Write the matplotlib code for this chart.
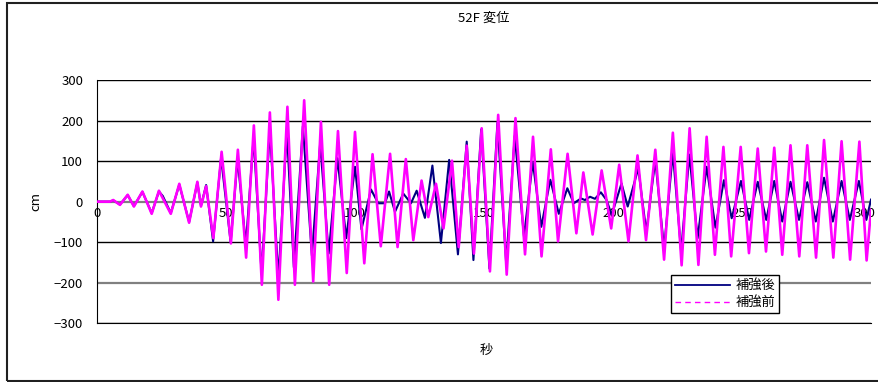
import matplotlib.pyplot as plt
from matplotlib.lines import Line2D
from matplotlib.patches import Rectangle

plt.rcParams['font.family'] = ['Noto Sans CJK JP', 'DejaVu Sans']

# 補強前 (before retrofit) - turning points
t_before = [0, 5, 6.3, 8.9, 11.9, 14.3, 17.6, 21.2, 24.0, 28.6, 31.9, 35.7, 38.9, 40.3, 42.3,
            45.1, 48.3, 51.9, 54.6, 57.8, 60.8, 63.9, 67.0, 70.3, 73.8, 76.7, 80.3, 83.8,
            86.8, 90.0, 93.4, 96.8, 100.0, 103.6, 106.8, 110.0, 113.6, 116.5, 119.7, 122.6,
            125.8, 128.4, 131.4, 134.3, 137.6, 140.2, 143.3, 146.1, 149.1, 152.3, 155.5,
            158.8, 162.2, 165.9, 169.0, 172.3, 175.9, 178.7, 182.4, 185.8, 188.5, 192.1,
            195.6, 199.3, 202.4, 206.0, 209.5, 212.8, 216.4, 219.8, 223.2, 226.6, 229.7,
            233.1, 236.3, 239.5, 242.8, 245.8, 249.5, 252.7, 256.1, 259.3, 262.5, 265.6,
            268.8, 272.2, 275.3, 278.7, 281.8, 285.4, 288.6, 291.9, 295.5, 298.3, 300]
v_before = [0, 0, 4, -8, 17, -12, 25, -30, 27, -30, 44, -52, 49, -12, 38,
            -90, 123, -103, 128, -138, 188, -205, 220, -242, 234, -205, 250, -197,
            197, -205, 174, -176, 172, -152, 117, -110, 118, -112, 105, -95,
            52, -38, 44, -66, 101, -112, 138, -128, 181, -172, 214,
            -180, 206, -130, 160, -135, 129, -98, 118, -78, 72, -81,
            77, -66, 91, -98, 114, -95, 128, -143, 170, -157, 181,
            -156, 160, -131, 135, -135, 135, -127, 131, -123, 133, -131,
            139, -135, 139, -138, 152, -138, 149, -143, 148, -145, -20]

# 補強後 (after retrofit)
t_after = [0, 5, 6.3, 8.9, 11.9, 14.3, 17.6, 21.2, 24.0, 25.5, 28.6, 31.9, 35.7, 38.9, 40.3,
           42.3, 45.0, 48.1, 51.8, 54.5, 57.7, 60.7, 63.8, 67.0, 70.3, 73.6, 76.3, 79.8,
           83.3, 86.5, 89.8, 93.2, 96.6, 100.0, 102.5, 106.2, 109.0, 111.6, 113.2, 115.5,
           118.7, 121.7, 123.9, 127.1, 130.0, 133.3, 136.5, 139.9, 143.3, 145.9, 148.9,
           152.1, 155.2, 158.6, 161.9, 165.5, 168.9, 172.2, 175.7, 179.0, 182.3, 184.8,
           187.6, 189.1, 191.1, 193.0, 195.3, 197.5, 199.5, 203.3, 205.7, 209.8, 212.9,
           216.4, 219.8, 223.2, 226.4, 229.6, 232.8, 236.3, 239.7, 243.0, 246.0, 249.6,
           252.8, 256.1, 259.4, 262.5, 265.6, 268.8, 272.1, 275.3, 278.6, 281.8, 285.2,
           288.6, 291.8, 295.3, 298.2, 300]
v_after = [0, 0, 3, -7, 16, -11, 24, -28, 25, 14, -28, 42, -50, 47, -10,
           41, -98, 108, -100, 105, -106, 158, -178, 178, -189, 175, -162, 186,
           -133, 144, -128, 107, -90, 86, -68, 30, -4, -4, 25, -25,
           20, -4, 27, -40, 89, -102, 103, -130, 148, -144, 178,
           -165, 195, -152, 162, -86, 98, -62, 54, -30, 33, -4,
           8, 4, 12, 7, 23, 4, -33, 45, -12, 82, -74,
           102, -115, 121, -123, 116, -90, 86, -64, 53, -41, 51,
           -45, 49, -45, 51, -49, 49, -45, 48, -49, 59, -49,
           51, -45, 51, -45, 5]

x_ticks = [0, 50, 100, 150, 200, 250, 300]
y_ticks = [-300, -200, -100, 0, 100, 200, 300]
labels = ['補強後', '補強前']

navy = '#000080'
magenta = '#FF00FF'

fig = plt.figure(figsize=(8.79, 3.82), dpi=100)
fig.patches.append(Rectangle((7.5 / 879, 1.5 / 382), 1.0, 1 - 4.5 / 382,
                             transform=fig.transFigure, fill=False,
                             edgecolor='#202020', linewidth=1.5))
ax = fig.add_axes([97 / 879, 1 - 323.3 / 382, 774 / 879, 243.3 / 382])

for y in y_ticks:
    if y in (0, -200):
        ax.axhline(y, color='#808080', lw=1.6, zorder=1)
    else:
        ax.axhline(y, color='black', lw=1.0, zorder=1)

for x in x_ticks:
    # the last label sits at the image edge; nudge it so it stays inside
    xpos = x - 2.5 if x == x_ticks[-1] else x
    ax.text(xpos, -12, str(x), ha='center', va='top', fontsize=9.5, zorder=2)

ax.plot(t_after, v_after, color=navy, lw=1.5, zorder=3, solid_joinstyle='round')
ax.plot(t_before, v_before, color=magenta, lw=1.9, zorder=4, solid_joinstyle='round')

ax.set_xlim(0, 300)
ax.set_ylim(-300, 300)
ax.set_xticks([])
ax.set_yticks(y_ticks)
ax.set_yticklabels([str(y).replace('-', '−') for y in y_ticks], fontsize=9.5)
ax.tick_params(axis='y', length=0, pad=10)
for side in ('top', 'right'):
    ax.spines[side].set_visible(False)
ax.spines['left'].set_color('black')
ax.spines['bottom'].set_color('black')

fig.text(484 / 879, 1 - 18 / 382, '52F 変位', ha='center', va='center', fontsize=9.5)
fig.text(36 / 879, 1 - 202 / 382, 'cm', ha='center', va='center', rotation=90, fontsize=9.5)
fig.text(486 / 879, 1 - 350 / 382, '秒', ha='center', va='center', fontsize=9.5)

handles = [Line2D([], [], color=navy, lw=1.3),
           Line2D([], [], color=magenta, lw=1.0, ls=(0, (4, 3)))]
leg = ax.legend(handles, labels, loc='lower left', bbox_to_anchor=(0.7416, 0.042),
                fontsize=9.5, fancybox=False, framealpha=1, edgecolor='black',
                borderpad=0.3, handlelength=4.2, handletextpad=0.4, labelspacing=0.3,
                borderaxespad=0)
leg.get_frame().set_linewidth(1.0)
leg.set_zorder(6)

fig.savefig('out.png', dpi=100)
